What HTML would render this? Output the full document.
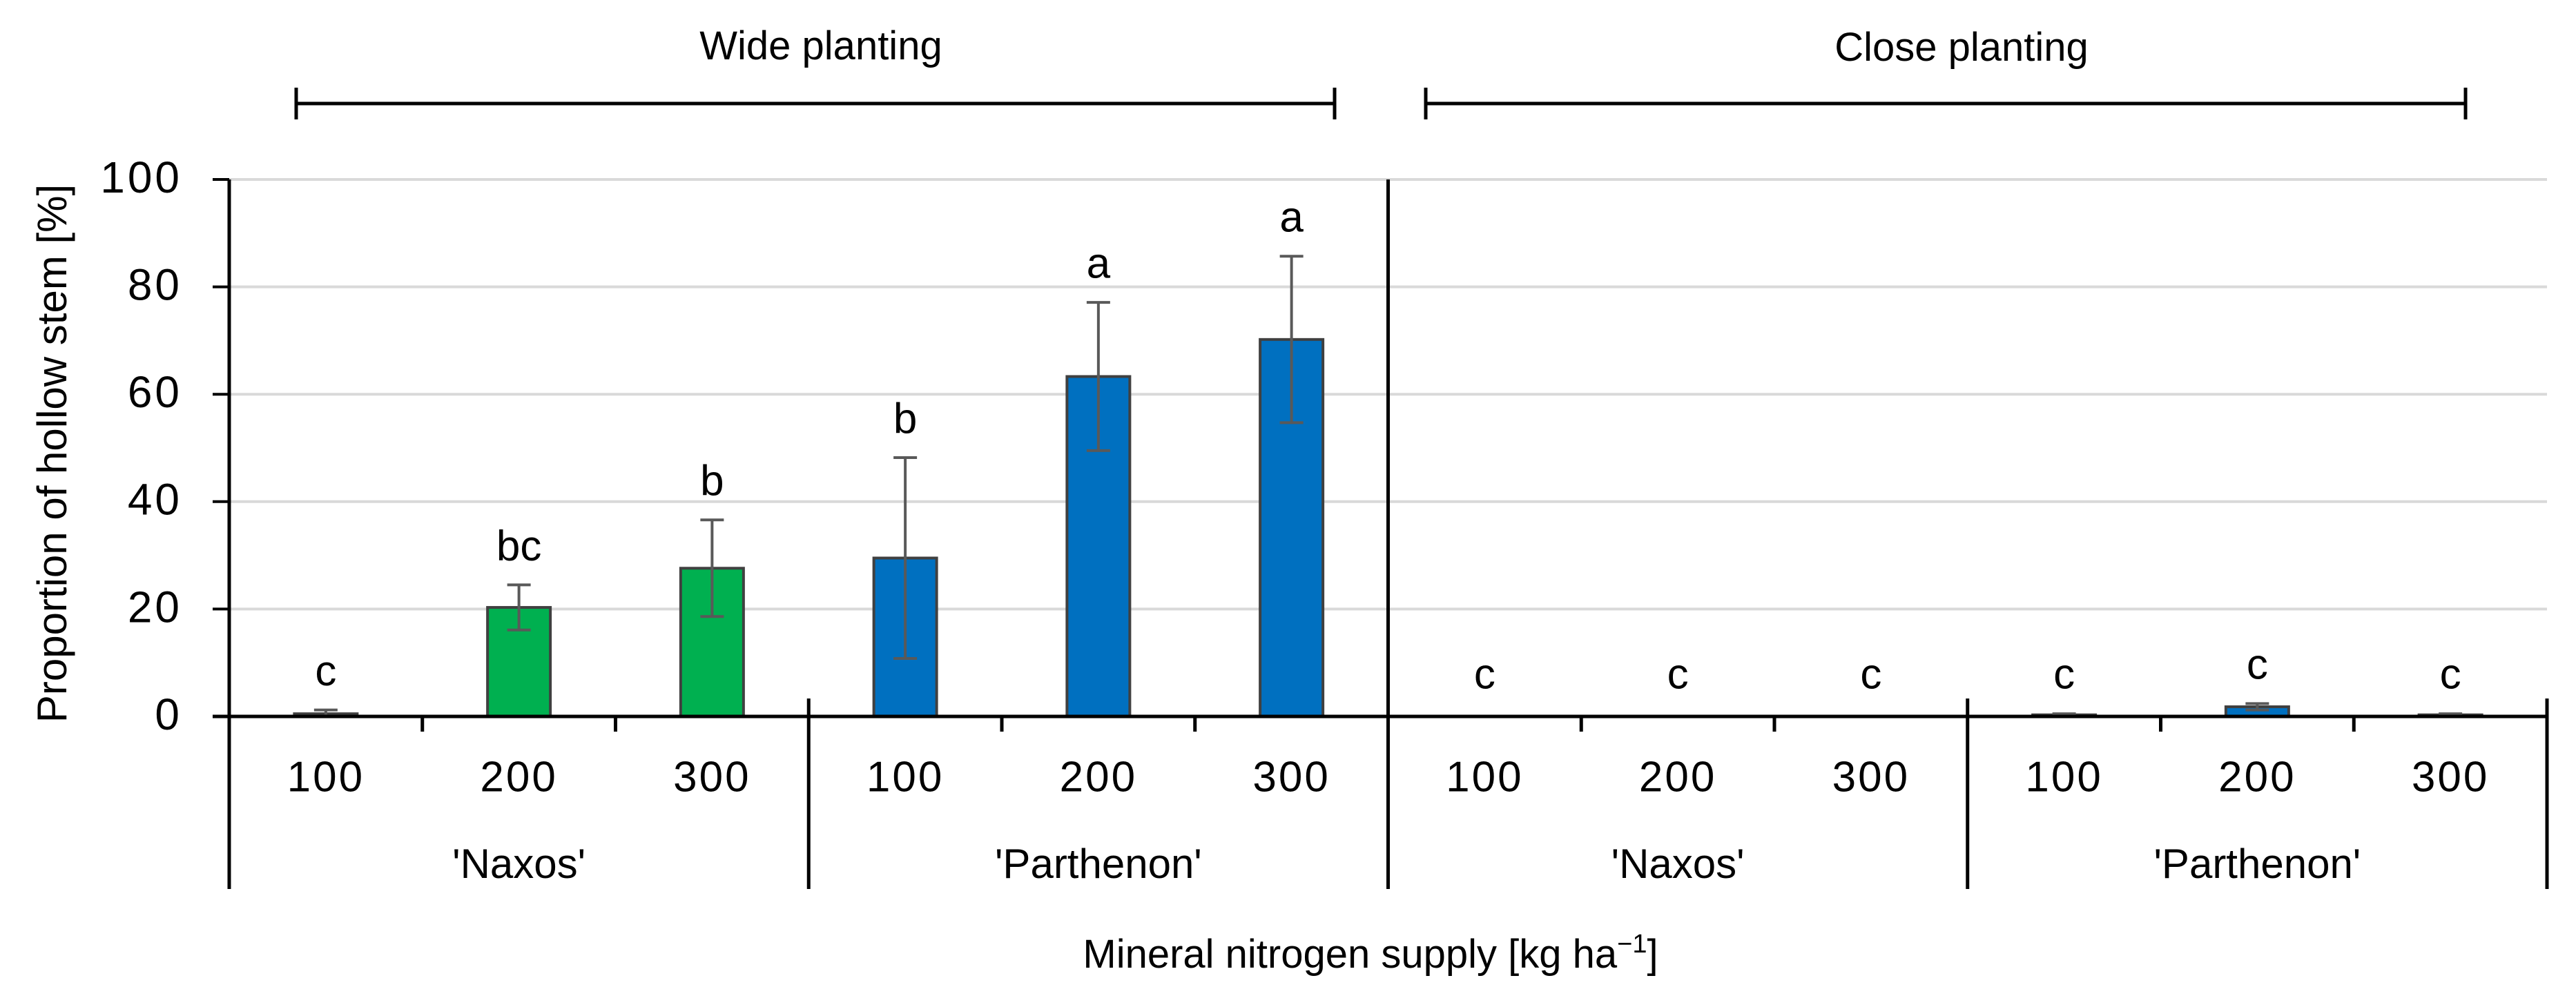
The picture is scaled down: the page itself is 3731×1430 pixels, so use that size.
<!DOCTYPE html>
<html><head><meta charset="utf-8"><style>
html,body{margin:0;padding:0;background:#fff;}
svg{display:block;font-family:"Liberation Sans",sans-serif;}
</style></head><body>
<svg id="chart" width="3731" height="1430" viewBox="0 0 3731 1430">
<g id="grid"></g>
<g id="bars"></g>
<g id="axes"></g>
<text x="80" y="657" font-size="60" text-anchor="middle" dominant-baseline="middle" transform="rotate(-90 80 657)">Proportion of hollow stem [%]</text>
<text x="1985" y="1402" font-size="58" text-anchor="middle">Mineral nitrogen supply [kg ha<tspan font-size="38" dy="-22">−1</tspan><tspan dy="22">]</tspan></text>
<text x="1189" y="86" font-size="58" text-anchor="middle">Wide planting</text>
<text x="2841" y="88" font-size="58" text-anchor="middle">Close planting</text>
<g stroke="#000" stroke-width="5"><line x1="429" y1="150" x2="1933" y2="150"/><line x1="429" y1="127" x2="429" y2="173"/><line x1="1933" y1="127" x2="1933" y2="173"/></g>
<g stroke="#000" stroke-width="5"><line x1="2065" y1="150" x2="3571" y2="150"/><line x1="2065" y1="127" x2="2065" y2="173"/><line x1="3571" y1="127" x2="3571" y2="173"/></g>
</svg>
<script>
const doses = ["100","200","300","100","200","300","100","200","300","100","200","300"];
const groups = ["'Naxos'","'Parthenon'","'Naxos'","'Parthenon'"];
const values = [0.5,20.3,27.6,29.5,63.3,70.2,0,0,0,0.3,1.8,0.3];
const errors = [0.7,4.2,9,18.7,13.8,15.5,0,0,0,0.2,0.6,0.2];
const letters = ["c","bc","b","b","a","a","c","c","c","c","c","c"];
const yTicks = [0,20,40,60,80,100];
const colors = ["#00B050","#00B050","#00B050","#0070C0","#0070C0","#0070C0","#00B050","#00B050","#00B050","#0070C0","#0070C0","#0070C0"];

const NS="http://www.w3.org/2000/svg";
const x0=332,x1=3689,y0=1038,yTop=260;
const cw=(x1-x0)/doses.length;
const xc=i=>x0+(i+0.5)*cw;
const ys=v=>y0-(v/100)*(y0-yTop);
function mk(tag,attrs,parent){const e=document.createElementNS(NS,tag);for(const k in attrs)e.setAttribute(k,attrs[k]);parent.appendChild(e);return e;}
const grid=document.getElementById('grid'),bars=document.getElementById('bars'),axes=document.getElementById('axes');

yTicks.forEach(t=>{
  if(t>0){const g=mk('line',{x1:x0,x2:x1,y1:ys(t),y2:ys(t),stroke:'#d9d9d9','stroke-width':4},grid);
  
  }
  const tk=mk('line',{x1:308,x2:x0,y1:ys(t),y2:ys(t),stroke:'#000','stroke-width':4},axes);
  
  
  const lb=mk('text',{x:264,y:ys(t)+2,'font-size':64,'letter-spacing':4,'text-anchor':'end','dominant-baseline':'middle'},axes);
  lb.textContent=t;
  
  
});

values.forEach((v,i)=>{
  const cx=xc(i),bw=91;
  if(v>0){const r=mk('rect',{x:cx-bw/2,y:ys(v),width:bw,height:y0-ys(v),fill:colors[i],stroke:'#404040','stroke-width':4},bars);
  
  }
  const e=errors[i];let top=ys(v);
  if(e>0){
    top=ys(v+e);const bot=ys(Math.max(0,v-e));
    const g=mk('g',{stroke:'#595959','stroke-width':4},bars);
    
    
    mk('line',{x1:cx,x2:cx,y1:top,y2:bot},g);
    mk('line',{x1:cx-17,x2:cx+17,y1:top,y2:top},g);
    mk('line',{x1:cx-17,x2:cx+17,y1:bot,y2:bot},g);
  }
  const lt=mk('text',{x:cx,y:Math.min(top,y0-5)-52,'font-size':62,'text-anchor':'middle','dominant-baseline':'middle'},bars);
  lt.textContent=letters[i];
  
  
  const dl=mk('text',{x:cx,y:1130,'font-size':62,'letter-spacing':3,'text-anchor':'middle','dominant-baseline':'middle'},axes);
  dl.textContent=doses[i];
  
  
});

const xa=mk('line',{x1:308,x2:x1,y1:y0,y2:y0,stroke:'#000','stroke-width':5},axes);


const ya=mk('line',{x1:x0,x2:x0,y1:yTop,y2:1288,stroke:'#000','stroke-width':5},axes);


for(let i=1;i<=doses.length;i++){
  const x=x0+i*cw;let a,b;
  if(i===6){a=yTop;b=1288;}else if(i%3===0){a=1012;b=1288;}else{a=y0;b=1060;}
  const l=mk('line',{x1:x,x2:x,y1:a,y2:b,stroke:'#000','stroke-width':5},axes);
  
  
}
groups.forEach((g,j)=>{
  const t=mk('text',{x:x0+(j*3+1.5)*cw,y:1256,'font-size':60,'text-anchor':'middle','dominant-baseline':'middle'},axes);
  t.textContent=g;
  
  
});
</script>
</body></html>
